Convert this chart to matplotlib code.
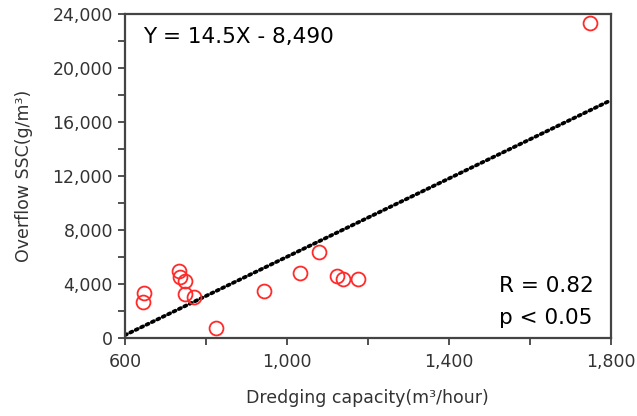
import numpy as np
import matplotlib.pyplot as plt
from matplotlib.ticker import FuncFormatter, FixedLocator, MultipleLocator

# dredging capacity (m3/hour) and overflow SSC (g/m3)
capacity = [647, 644, 734, 736, 749, 749, 770, 824, 943, 1032, 1080, 1125, 1138, 1176, 1749]
ssc = [3350, 2650, 4980, 4500, 4250, 3230, 3000, 720, 3450, 4850, 6350, 4600, 4400, 4400, 23350]

slope = 14.5
intercept = -8490

x_major = [600, 1000, 1400, 1800]
x_minor = [800, 1200, 1600]

fig = plt.figure(figsize=(6.37, 4.16), dpi=100)
ax = fig.add_axes([0.196, 0.1875, 0.763, 0.779])

x_fit = np.array([600, 1800])
ax.plot(x_fit, slope * x_fit + intercept, color="black", linestyle=(0, (0.6, 1.0)),
        linewidth=2.7, dash_capstyle="round", zorder=2)
ax.plot(capacity, ssc, linestyle="none", marker="o", markersize=10,
        markerfacecolor="none", markeredgecolor="#ff2a2a", markeredgewidth=1.3, zorder=3)

ax.set_xlim(600, 1800)
ax.set_ylim(0, 24000)
ax.xaxis.set_major_locator(FixedLocator(x_major))
ax.xaxis.set_minor_locator(FixedLocator(x_minor))
ax.yaxis.set_major_locator(MultipleLocator(4000))
ax.yaxis.set_minor_locator(MultipleLocator(2000))
comma = FuncFormatter(lambda v, p: f"{int(v):,}")
ax.xaxis.set_major_formatter(comma)
ax.yaxis.set_major_formatter(comma)
ax.tick_params(which="both", direction="out", length=5, width=1.2, labelsize=12.5, colors="#333333")
ax.tick_params(axis="x", pad=6)

for s in ax.spines.values():
    s.set_linewidth(1.6)
    s.set_color("#444444")

ax.set_xlabel("Dredging capacity(m³/hour)", fontsize=12.5, labelpad=13, color="#333333")
ax.set_ylabel("Overflow SSC(g/m³)", fontsize=12.5, labelpad=14, color="#333333")

ax.text(0.037, 0.929, "Y = 14.5X - 8,490", transform=ax.transAxes, fontsize=15.5, va="center")
ax.text(0.77, 0.142, "R = 0.82", transform=ax.transAxes, fontsize=15.5, va="baseline")
ax.text(0.77, 0.043, "p < 0.05", transform=ax.transAxes, fontsize=15.5, va="baseline")

fig.savefig("out.png", dpi=100)
